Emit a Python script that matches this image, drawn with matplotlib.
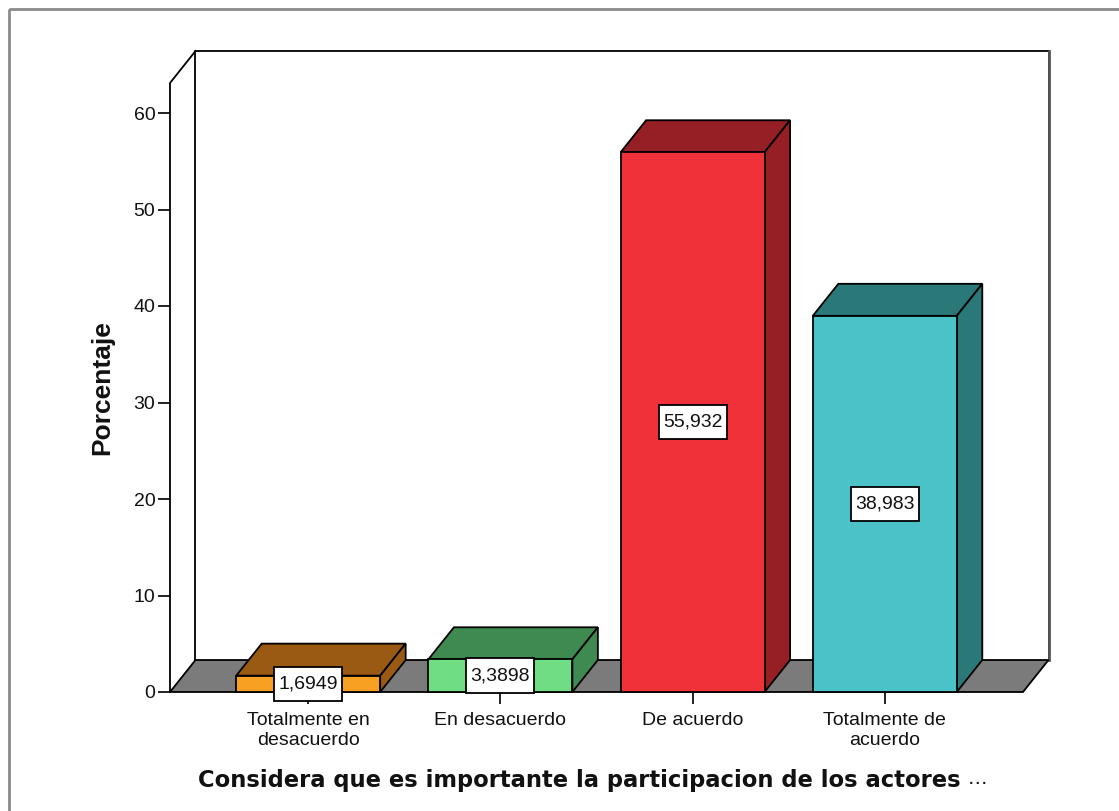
import matplotlib
matplotlib.use('Agg')
import matplotlib.pyplot as plt
from matplotlib.patches import Polygon, Rectangle
from matplotlib.path import Path

# ---- data ----
categories = ['Totalmente en\ndesacuerdo', 'En desacuerdo', 'De acuerdo', 'Totalmente de\nacuerdo']
values = [1.6949, 3.3898, 55.932, 38.983]
value_labels = ['1,6949', '3,3898', '55,932', '38,983']
yticks = [0, 10, 20, 30, 40, 50, 60]
front_colors = ['#F7A021', '#70DC84', '#F0313A', '#4AC2C7']
depth_colors = ['#9B5A14', '#3F8A50', '#951F24', '#2B7878']
ylabel = 'Porcentaje'
xlabel = 'Considera que es importante la participacion de los actores'

W, H = 1119, 811
fig = plt.figure(figsize=(W / 100, H / 100), dpi=100)
fig.patch.set_facecolor('white')

# overlay for frame and titles (pixel coordinates)
ov = fig.add_axes([0, 0, 1, 1], zorder=0)
ov.set_xlim(0, W)
ov.set_ylim(H, 0)
ov.axis('off')
ov.add_patch(Rectangle((8.5, 8.5), W, H, fill=False, ec='#8a8a8a', lw=2))

# main axes = front plane
ax = fig.add_axes([170 / W, (H - 692) / H, (1023 - 170) / W, (692 - 83) / H], zorder=1)
ax.patch.set_visible(False)
x0, x1 = -0.719, 3.719
y_per_px = 60 / 579
ymax = 609 * y_per_px
ax.set_xlim(x0, x1)
ax.set_ylim(0, ymax)
DX = 25.5 * (x1 - x0) / 853
DY = 32 * y_per_px
for s in ax.spines.values():
    s.set_visible(False)

LW = 1.3
# back wall
ax.add_patch(Polygon([(x0 + DX, DY), (x1 + DX, DY), (x1 + DX, ymax + DY), (x0 + DX, ymax + DY)],
                     closed=True, fc='white', ec='none', clip_on=False, zorder=1))
ax.plot([x0 + DX, x0 + DX, x1 + DX, x1 + DX], [DY, ymax + DY, ymax + DY, DY],
        color='black', lw=LW, clip_on=False, zorder=2)
ax.plot([x1 + DX, x1 + DX], [DY, ymax + DY], color='#555555', lw=2.0, clip_on=False, zorder=2)
# floor
ax.add_patch(Polygon([(x0, 0), (x1, 0), (x1 + DX, DY), (x0 + DX, DY)],
                     closed=True, fc='#7B7B7B', ec='black', lw=LW, clip_on=False, zorder=3))
# front axis line
ax.plot([x0, x0, x0 + DX], [0, ymax, ymax + DY], color='black', lw=LW, clip_on=False, zorder=3)


def label_box(bx, by, bw_, bh, mutation_size):
    px = 0.22 * mutation_size
    py = 0.45 * mutation_size
    xa, xb = bx - px, bx + bw_ + px
    ya, yb = by - py, by + bh + py
    return Path([(xa, ya), (xb, ya), (xb, yb), (xa, yb), (xa, ya)],
                [Path.MOVETO, Path.LINETO, Path.LINETO, Path.LINETO, Path.CLOSEPOLY])


# bars
bw = 0.749
for i, (v, fc, dc) in enumerate(zip(values, front_colors, depth_colors)):
    l, r = i - bw / 2, i + bw / 2
    ax.add_patch(Polygon([(l, v), (r, v), (r + DX, v + DY), (l + DX, v + DY)],
                         closed=True, fc=dc, ec='black', lw=LW, clip_on=False, zorder=4))
    ax.add_patch(Polygon([(r, 0), (r + DX, DY), (r + DX, v + DY), (r, v)],
                         closed=True, fc=dc, ec='black', lw=LW, clip_on=False, zorder=4))
    ax.add_patch(Rectangle((l, 0), bw, v, fc=fc, ec='black', lw=LW, clip_on=False, zorder=5))
    ax.text(i, v / 2, value_labels[i], ha='center', va='center', fontsize=14,
            family='Liberation Sans', color='#111111', zorder=7,
            bbox=dict(boxstyle=label_box, fc='white', ec='black', lw=LW))

ax.set_yticks(yticks)
ax.set_yticklabels([str(t) for t in yticks])
ax.set_xticks(range(len(categories)))
ax.set_xticklabels(categories, linespacing=1.2)
ax.tick_params(axis='y', length=8.6, width=LW, pad=2, labelsize=14, colors='#111111')
ax.tick_params(axis='x', length=8.6, width=LW, pad=6, labelsize=14, colors='#111111')
for lab in ax.get_xticklabels() + ax.get_yticklabels():
    lab.set_family('Liberation Sans')

# axis titles
ov.text(102, 388, ylabel, rotation=90, ha='center', va='center', fontsize=19,
        fontweight='bold', family='Liberation Sans', color='#111111')
t = ov.text(579.5, 781, xlabel, ha='center', va='center', fontsize=16.3,
            fontweight='bold', family='DejaVu Sans', color='#111111')
ov.annotate('…', xy=(1, 0.2), xycoords=t, xytext=(5, 0), textcoords='offset points',
            ha='left', va='bottom', fontsize=14, family='DejaVu Sans', color='#111111')

fig.savefig('out.png', dpi=100)
